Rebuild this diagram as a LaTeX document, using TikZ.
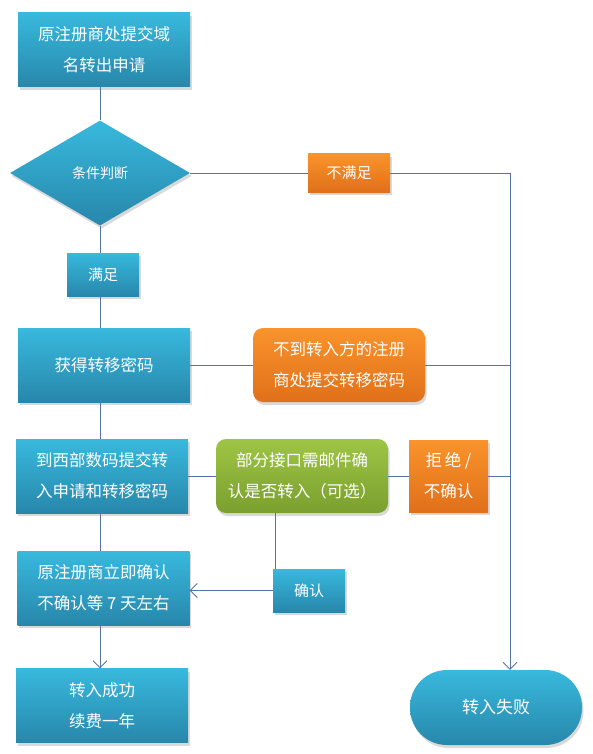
\documentclass[tikz,border=0pt]{standalone}
\usepackage{fontspec}
\setmainfont{Noto Sans CJK SC}
\usetikzlibrary{shapes.geometric, arrows.meta, positioning, shadows, calc}
\definecolor{boxtop}{HTML}{38B9DD}
\definecolor{boxbot}{HTML}{2787AB}
\definecolor{orgtop}{HTML}{F9932B}
\definecolor{orgbot}{HTML}{E0701A}
\definecolor{grntop}{HTML}{9FC545}
\definecolor{grnbot}{HTML}{7A9F2F}
\definecolor{linecol}{HTML}{5574AA}
\tikzset{
  soft_shadow/.style={drop shadow={opacity=0.3, shadow xshift=1.5pt, shadow yshift=-3pt}},
  blue_box/.style={rectangle, top color=boxtop, bottom color=boxbot, draw=none, text=white, soft_shadow,
    minimum width=172pt, minimum height=74pt, align=center, inner sep=2pt, font=\fontsize{16.5}{31}\selectfont},
  blue_tag/.style={rectangle, top color=boxtop, bottom color=boxbot, draw=none, text=white, soft_shadow,
    minimum width=72pt, minimum height=43pt, inner sep=2pt, font=\fontsize{15}{20}\selectfont},
  decision/.style={diamond, top color=boxtop, bottom color=boxbot, draw=none, text=white, soft_shadow,
    minimum width=180pt, minimum height=105pt, inner sep=0pt, font=\fontsize{14}{18}\selectfont},
  orange_box/.style={rectangle, top color=orgtop, bottom color=orgbot, draw=none, text=white, soft_shadow,
    align=center, inner sep=2pt, font=\fontsize{16.5}{31}\selectfont},
  green_box/.style={rectangle, rounded corners=10pt, top color=grntop, bottom color=grnbot, draw=none, text=white, soft_shadow,
    minimum width=172pt, minimum height=74pt, align=center, inner sep=2pt, font=\fontsize{16.5}{31}\selectfont},
  end_box/.style={rectangle, rounded corners=37pt, top color=boxtop, bottom color=boxbot, draw=none, text=white, soft_shadow,
    minimum width=172pt, minimum height=75pt, font=\fontsize{17}{24}\selectfont},
  link/.style={-, linecol, line width=0.8pt},
  arrow/.style={-{Straight Barb[length=7pt, width=14pt]}, linecol, line width=0.8pt}
}
\begin{document}
\begin{tikzpicture}[x=1pt, y=-1pt]
  \useasboundingbox (0,0) rectangle (592,754);

  % Left column
  \node (src) [blue_box] at (104,50) {原注册商处提交域\\名转出申请};
  \node (cond) [decision] at (100,173) {条件判断};
  \node (ok) [blue_tag] at (103,274.5) {满足};
  \node (getpwd) [blue_box] at (104,365) {获得转移密码};
  \node (submit) [blue_box] at (102,476) {到西部数码提交转\\入申请和转移密码};
  \node (wait) [blue_box] at (103.5,588) {原注册商立即确认\\不确认等 7 天左右};
  \node (success) [blue_box] at (102,705.5) {转入成功\\续费一年};

  % Middle and right
  \node (notok) [orange_box, minimum width=82pt, minimum height=38pt, font=\fontsize{15}{20}\selectfont] at (349,173) {不满足};
  \node (nogo) [orange_box, rounded corners=10pt, minimum width=172pt, minimum height=74pt] at (339,365) {不到转入方的注册\\商处提交转移密码};
  \node (mail) [green_box] at (302,476) {部分接口需邮件确\\认是否转入（可选）};
  \node (reject) [orange_box, minimum width=79pt, minimum height=72pt] at (448.5,476) {拒\,绝 /\\不确认};
  \node (confirm) [blue_tag] at (309,590.5) {确认};
  \node (fail) [end_box] at (496,707.5) {转入失败};

  \coordinate (spine) at (100,0);
  \coordinate (turn) at (510,173);

  % Connections
  \draw [link] (src.south -| spine) -- (cond.north);
  \draw [link] (cond.south) -- (ok.north -| spine);
  \draw [link] (ok.south -| spine) -- (getpwd.north -| spine);
  \draw [link] (getpwd.south -| spine) -- (submit.north -| spine);
  \draw [link] (submit.south -| spine) -- (wait.north -| spine);
  \draw [arrow] (wait.south -| spine) -- (success.north -| spine);

  \draw [link] (cond.east) -- (notok.west);
  \draw [link] (notok.east) -- (turn);
  \draw [arrow] (turn) -- (turn |- fail.north);
  \draw [link] (getpwd.east) -- (nogo.west);
  \draw [link] (nogo.east) -- (nogo.east -| turn);
  \draw [link] (submit.east) -- (mail.west);
  \draw [link] (mail.east) -- (reject.west);
  \draw [link] (reject.east) -- (reject.east -| turn);
  \draw [link] ([xshift=-27pt]mail.south) -- ([xshift=-27pt]mail.south |- confirm.north);
  \draw [arrow] (confirm.west) -- (confirm.west -| wait.east);
\end{tikzpicture}
\end{document}
